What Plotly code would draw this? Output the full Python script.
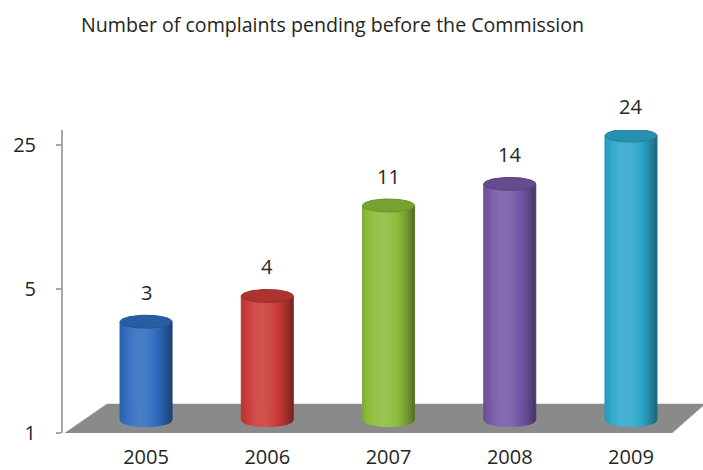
import numpy as np
import plotly.graph_objects as go

# ---- data ----
years = ["2005", "2006", "2007", "2008", "2009"]
complaints = [3, 4, 11, 14, 24]
bar_colors = ["#2f6cc0", "#c93b37", "#8cbc3a", "#7557a6", "#2fa8cc"]
y_tick_vals = [1, 5, 25]
y_tick_text = ["1", "5", "25"]
title_text = "Number of complaints pending before the Commission"

# ---- geometry (pixels) ----
W, H = 703, 470
ML, MR, MT, MB = 63, 0, 130, 37
PW, PH = W - ML - MR, H - MT - MB
X_RANGE = [-0.685, 4.594]
PX_PER_X = PW / (X_RANGE[1] - X_RANGE[0])
PX_PER_DEC = 206.0
Y_TOP = PH / PX_PER_DEC
DEPTH = 13 / PX_PER_DEC          # back plane lift of the cylinders
RX = 26 / PX_PER_X               # cylinder radius (x units)
RY = 6.5 / PX_PER_DEC            # ellipse half-height (decades)
FONT = "'Open Sans', Lato, sans-serif"
TEXT_COLOR = "#252525"


def hex_rgb(h):
    h = h.lstrip("#")
    return [int(h[i:i + 2], 16) for i in (0, 2, 4)]


def shade(h, m):
    c = hex_rgb(h)
    if m >= 1:
        c = [v + (255 - v) * (m - 1) for v in c]
    else:
        c = [v * m for v in c]
    return "rgb(%d,%d,%d)" % tuple(int(round(max(0, min(255, v)))) for v in c)


def light(u):
    # brightness across the cylinder: highlight left of centre, darker edges
    return 1.12 - 0.36 * (u + 0.2) ** 2


def px_to_x(px):
    return X_RANGE[0] + (px - ML) / PX_PER_X


def py_to_y(py):
    return 10 ** ((H - MB - py) / PX_PER_DEC)


fig = go.Figure()

# grey floor plane on the main axes
floor_px = [(65, 433), (672, 433), (705, 404), (107, 404), (65, 433)]
fig.add_trace(go.Scatter(
    x=[px_to_x(p[0]) for p in floor_px], y=[py_to_y(p[1]) for p in floor_px],
    mode="lines", fill="toself", fillcolor="#8a8a8a",
    line=dict(color="#8a8a8a", width=0.5),
    xaxis="x", yaxis="y", hoverinfo="skip", showlegend=False))

N = 26
edges = np.linspace(-1, 1, N + 1)
for i, (v, col) in enumerate(zip(complaints, bar_colors)):
    top = v
    for k in range(N):
        ua, ub = edges[k], edges[k + 1]
        xa, xb = i + RX * ua, i + RX * ub
        ba = 10 ** (-RY * np.sqrt(max(0.0, 1 - ua ** 2)))
        bb = 10 ** (-RY * np.sqrt(max(0.0, 1 - ub ** 2)))
        c = shade(col, light((ua + ub) / 2))
        fig.add_trace(go.Scatter(
            x=[xa, xa, xb, xb, xa], y=[ba, top, top, bb, ba],
            mode="lines", fill="toself", fillcolor=c,
            line=dict(color=c, width=1),
            xaxis="x", yaxis="y2", hoverinfo="skip", showlegend=False))
    # top cap
    t = np.linspace(0, 2 * np.pi, 80)
    cx = i + RX * np.cos(t)
    cy = 10 ** (np.log10(v) + RY * np.sin(t))
    fig.add_trace(go.Scatter(
        x=cx, y=cy, mode="lines", fill="toself",
        fillcolor=shade(col, 0.86), line=dict(color=shade(col, 0.76), width=1),
        xaxis="x", yaxis="y2", hoverinfo="skip", showlegend=False))
    # value label
    fig.add_annotation(x=i, y=np.log10(v), xref="x", yref="y2", yshift=29,
                       text=str(v), showarrow=False,
                       font=dict(size=20, color=TEXT_COLOR, family=FONT))

# title
fig.add_annotation(x=(332 - ML) / PW, y=(H - MB - 25) / PH, xref="paper",
                   yref="paper", text=title_text, showarrow=False,
                   xanchor="center", yanchor="middle",
                   font=dict(size=19.6, color=TEXT_COLOR, family=FONT))

fig.update_layout(
    width=W, height=H,
    margin=dict(l=ML, r=MR, t=MT, b=MB, pad=0, autoexpand=False),
    paper_bgcolor="white", plot_bgcolor="white",
    showlegend=False,
    xaxis=dict(range=X_RANGE, tickvals=list(range(len(years))),
               ticktext=years, showgrid=False, zeroline=False,
               showline=False, ticks="", ticklabelstandoff=10,
               automargin=False,
               tickfont=dict(size=20, color=TEXT_COLOR, family=FONT)),
    yaxis=dict(type="log", range=[0, Y_TOP], tickvals=y_tick_vals,
               ticktext=y_tick_text, showgrid=False, zeroline=False,
               showline=True, linecolor="#a8a8a8", linewidth=2,
               ticks="outside", ticklen=5, tickwidth=2, tickcolor="#a8a8a8",
               ticklabelstandoff=16, automargin=False,
               tickfont=dict(size=20, color=TEXT_COLOR, family=FONT)),
    yaxis2=dict(type="log", range=[-DEPTH, Y_TOP - DEPTH], overlaying="y",
                visible=False),
)

fig.write_html("out.html")
